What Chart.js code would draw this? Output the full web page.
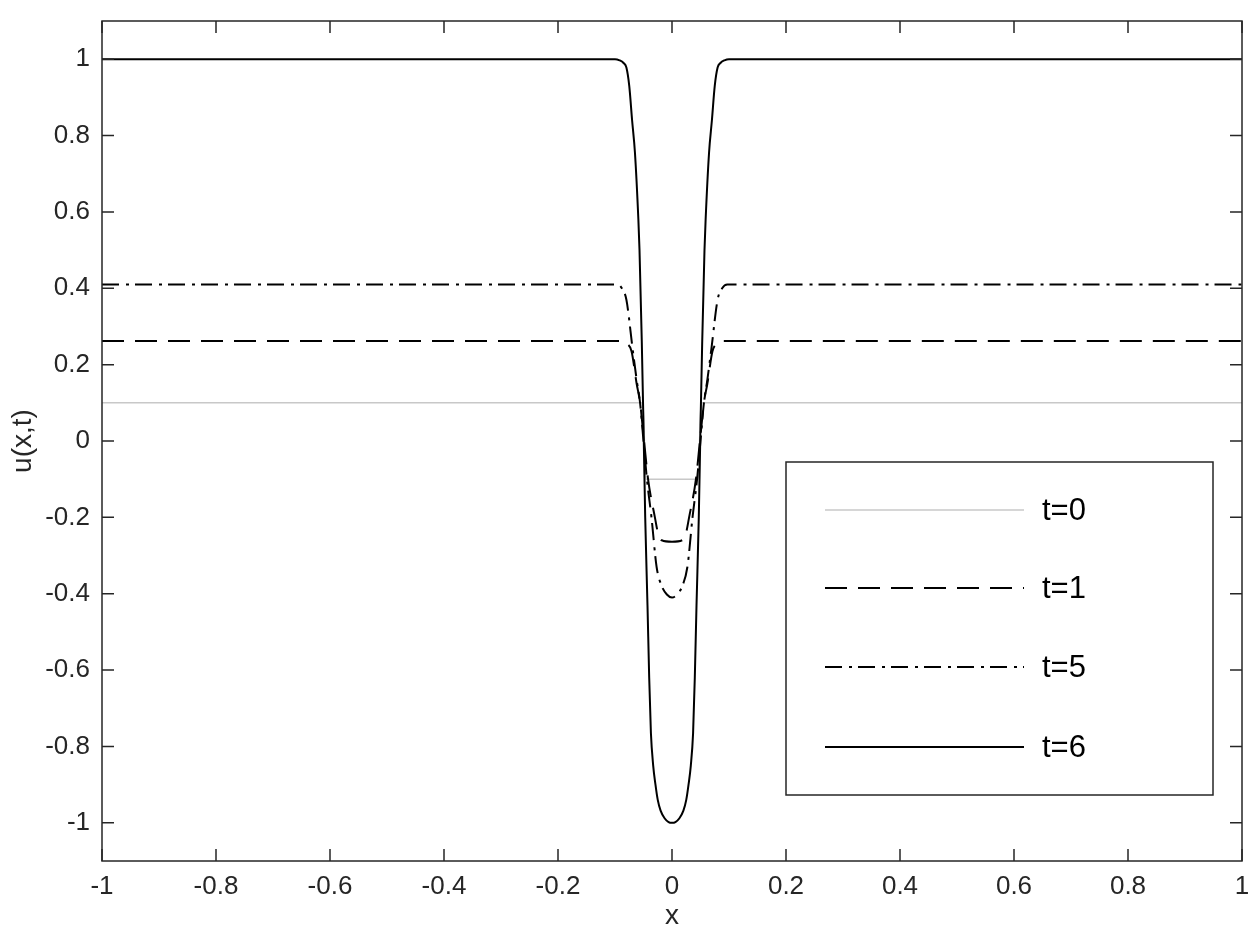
<!DOCTYPE html>
<html lang="en">
<head>
  <meta charset="UTF-8">
  <title>u(x,t)</title>
  <script src="https://cdn.jsdelivr.net/npm/chart.js"></script>
  <style>
    html, body { margin: 0; padding: 0; background: #fff; }
    canvas { display: block; }
  </style>
</head>
<body>
  <canvas id="uChart" width="1255" height="933"></canvas>

  <script>
    // values
    const labels = ['t=0', 't=1', 't=5', 't=6'];

    const x0 = [-1, -0.051, -0.046, 0.046, 0.051, 1];
    const y0 = [0.1, 0.1, -0.1, -0.1, 0.1, 0.1];

    const x1 = [-1, -0.086, -0.079, -0.071, -0.062, -0.056, -0.049, -0.042, -0.03, -0.024, -0.018, 0,
                0.018, 0.024, 0.03, 0.042, 0.049, 0.056, 0.062, 0.071, 0.079, 0.086, 1];
    const y1 = [0.262, 0.262, 0.255, 0.235, 0.15, 0.1, 0, -0.1, -0.2, -0.245, -0.26, -0.264,
                -0.26, -0.245, -0.2, -0.1, 0, 0.1, 0.15, 0.235, 0.255, 0.262, 0.262];

    const x5 = [-1, -0.095, -0.088, -0.08, -0.069, -0.062, -0.056, -0.05, -0.044, -0.036, -0.027, -0.018, -0.009, 0,
                0.009, 0.018, 0.027, 0.036, 0.044, 0.05, 0.056, 0.062, 0.069, 0.08, 0.088, 0.097, 1];
    const y5 = [0.41, 0.41, 0.4, 0.37, 0.24, 0.16, 0.1, 0, -0.1, -0.2, -0.33, -0.38, -0.402, -0.41,
                -0.402, -0.38, -0.33, -0.2, -0.1, 0, 0.1, 0.16, 0.24, 0.37, 0.4, 0.41, 0.41];

    const x6 = [-1, -0.1, -0.092, -0.085, -0.08, -0.075, -0.07, -0.065, -0.059, -0.057, -0.053, -0.05, -0.047,
                -0.043, -0.04, -0.037, -0.033, -0.029, -0.025, -0.02, -0.013, -0.006, 0,
                0.006, 0.013, 0.02, 0.025, 0.029, 0.033, 0.037, 0.04, 0.043, 0.047, 0.05, 0.053,
                0.057, 0.059, 0.065, 0.07, 0.075, 0.08, 0.085, 0.092, 0.1, 1];
    const y6 = [1, 1, 0.997, 0.99, 0.978, 0.93, 0.84, 0.755, 0.58, 0.5, 0.26, 0.04, -0.2,
                -0.43, -0.62, -0.765, -0.85, -0.9, -0.94, -0.968, -0.988, -0.998, -1,
                -0.998, -0.988, -0.968, -0.94, -0.9, -0.85, -0.765, -0.62, -0.43, -0.2, 0.04, 0.26,
                0.5, 0.58, 0.755, 0.84, 0.93, 0.978, 0.99, 0.997, 1, 1];

    const xTicks = [-1, -0.8, -0.6, -0.4, -0.2, 0, 0.2, 0.4, 0.6, 0.8, 1];
    const yTicks = [-1, -0.8, -0.6, -0.4, -0.2, 0, 0.2, 0.4, 0.6, 0.8, 1];

    const axisColor = '#262626';
    const fontFamily = '"Liberation Sans", Arial, Helvetica, sans-serif';

    const toPoints = (xs, ys) => xs.map((x, i) => ({ x: x, y: ys[i] }));
    const fmt = v => String(Number(v.toFixed(1)));

    // MATLAB style box, inward ticks and legend
    const matlabAxes = {
      id: 'matlabAxes',
      afterDraw(chart) {
        const { ctx, chartArea: a, scales } = chart;
        const tl = 12;
        ctx.save();
        ctx.strokeStyle = axisColor;
        ctx.lineWidth = 1.5;
        ctx.beginPath();
        xTicks.forEach(v => {
          const px = scales.x.getPixelForValue(v);
          ctx.moveTo(px, a.bottom); ctx.lineTo(px, a.bottom - tl);
          ctx.moveTo(px, a.top); ctx.lineTo(px, a.top + tl);
        });
        yTicks.forEach(v => {
          const py = scales.y.getPixelForValue(v);
          ctx.moveTo(a.left, py); ctx.lineTo(a.left + tl, py);
          ctx.moveTo(a.right, py); ctx.lineTo(a.right - tl, py);
        });
        ctx.stroke();
        ctx.strokeRect(a.left, a.top, a.right - a.left, a.bottom - a.top);

        // legend
        const bx = a.right - 456, by = a.bottom - 399, bw = 427, bh = 333;
        ctx.fillStyle = '#fff';
        ctx.fillRect(bx, by, bw, bh);
        ctx.strokeRect(bx, by, bw, bh);
        const rows = [48, 126, 205, 285];
        ctx.font = '31px ' + fontFamily;
        ctx.textBaseline = 'middle';
        ctx.textAlign = 'left';
        chart.data.datasets.forEach((ds, i) => {
          const ry = by + rows[i];
          ctx.save();
          ctx.strokeStyle = ds.borderColor;
          ctx.lineWidth = ds.borderWidth;
          ctx.setLineDash(ds.borderDash || []);
          ctx.beginPath();
          ctx.moveTo(bx + 39, ry);
          ctx.lineTo(bx + 238, ry);
          ctx.stroke();
          ctx.restore();
          ctx.fillStyle = '#000';
          ctx.fillText(ds.label, bx + 256, ry + 1);
        });
        ctx.restore();
      }
    };

    new Chart(document.getElementById('uChart'), {
      type: 'line',
      data: {
        datasets: [
          { label: labels[0], data: toPoints(x0, y0), borderColor: 'rgb(200,200,200)', borderWidth: 1.6, order: 4 },
          { label: labels[1], data: toPoints(x1, y1), borderColor: '#000', borderWidth: 2, borderDash: [22, 11], order: 3 },
          { label: labels[2], data: toPoints(x5, y5), borderColor: '#000', borderWidth: 2, borderDash: [17, 7, 3, 6], order: 2 },
          { label: labels[3], data: toPoints(x6, y6), borderColor: '#000', borderWidth: 2, order: 1 }
        ]
      },
      options: {
        responsive: false,
        animation: false,
        devicePixelRatio: 1,
        layout: { padding: { left: 0, right: 13, top: 21, bottom: 0 } },
        elements: {
          point: { radius: 0 },
          line: { cubicInterpolationMode: 'monotone', fill: false }
        },
        plugins: {
          legend: { display: false },
          tooltip: { enabled: false }
        },
        scales: {
          x: {
            type: 'linear',
            min: -1,
            max: 1,
            afterBuildTicks: s => { s.ticks = xTicks.map(v => ({ value: v })); },
            afterFit: s => { s.height = 72; s.paddingLeft = 0; s.paddingRight = 0; },
            grid: { display: false, drawTicks: false },
            border: { display: false },
            ticks: {
              padding: 10,
              maxRotation: 0,
              autoSkip: false,
              color: axisColor,
              font: { family: fontFamily, size: 26 },
              callback: v => fmt(v)
            },
            title: {
              display: true,
              text: 'x',
              color: axisColor,
              font: { family: fontFamily, size: 28 },
              padding: { top: 0, bottom: 0 }
            }
          },
          y: {
            min: -1.1,
            max: 1.1,
            afterBuildTicks: s => { s.ticks = yTicks.map(v => ({ value: v })); },
            afterFit: s => { s.width = 102; s.paddingTop = 0; s.paddingBottom = 0; },
            grid: { display: false, drawTicks: false },
            border: { display: false },
            ticks: {
              padding: 12,
              autoSkip: false,
              color: axisColor,
              font: { family: fontFamily, size: 26 },
              callback: v => fmt(v)
            },
            title: {
              display: true,
              text: 'u(x,t)',
              color: axisColor,
              font: { family: fontFamily, size: 28 },
              padding: { top: 6, bottom: 0 }
            }
          }
        }
      },
      plugins: [matlabAxes]
    });
  </script>
</body>
</html>
